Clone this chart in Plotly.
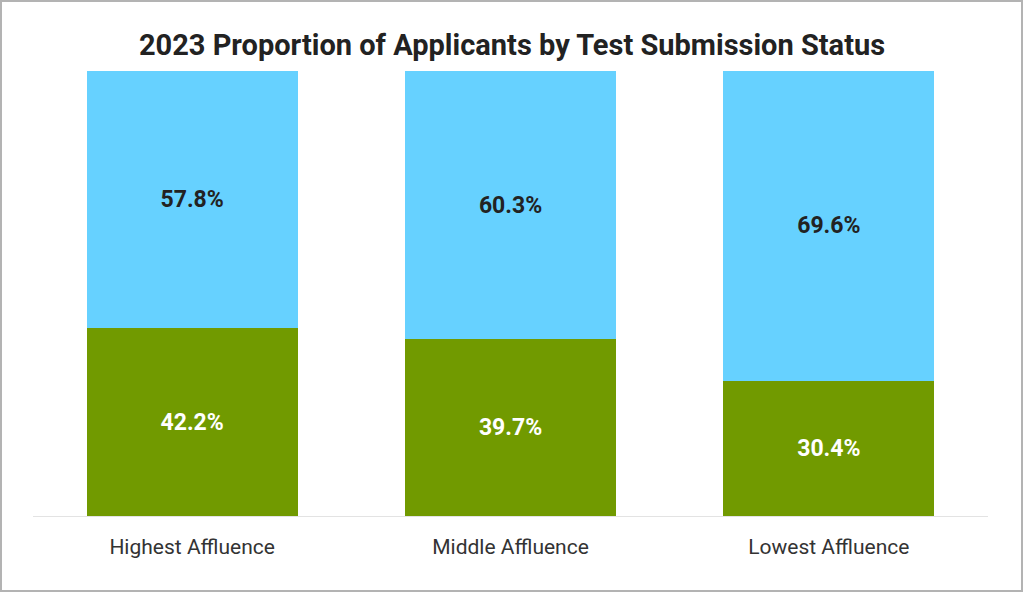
import plotly.graph_objects as go

categories = ["Highest Affluence", "Middle Affluence", "Lowest Affluence"]
green_values = [42.2, 39.7, 30.4]
blue_values = [57.8, 60.3, 69.6]

W, H = 1024, 593
ml, mr, mt, mb = 33, 36, 71, 77
pw, ph = W - ml - mr, H - mt - mb

fig = go.Figure()
fig.add_trace(go.Bar(
    x=categories, y=green_values, marker=dict(color="#719A00", line=dict(width=0)),
    texttemplate="%{y:.1f}%", textposition="inside", insidetextanchor="middle",
    textfont=dict(family="Roboto", size=23, color="#ffffff", weight="bold"),
    hoverinfo="skip", showlegend=False,
))
fig.add_trace(go.Bar(
    x=categories, y=blue_values, marker=dict(color="#66D1FF", line=dict(width=0)),
    texttemplate="%{y:.1f}%", textposition="inside", insidetextanchor="middle",
    textfont=dict(family="Roboto", size=23, color="#222222", weight="bold"),
    hoverinfo="skip", showlegend=False,
))

fig.update_layout(
    width=W, height=H, barmode="stack", bargap=0.337,
    margin=dict(l=ml, r=mr, t=mt, b=mb),
    paper_bgcolor="white", plot_bgcolor="white",
    title=dict(text="<b>2023 Proportion of Applicants by Test Submission Status</b>",
               x=0.5, xanchor="center", y=1 - 45 / H, yanchor="middle",
               font=dict(family="Roboto", size=29, color="#222222")),
    uniformtext=dict(mode="show", minsize=10),
)
fig.update_xaxes(showgrid=False, showline=True, linecolor="#e3e3e3", linewidth=1,
                 ticks="", ticklabelstandoff=12,
                 tickfont=dict(family="Roboto", size=21, color="#333333"))
fig.update_yaxes(range=[0, 100], visible=False, showgrid=False)

fig.add_shape(type="rect", xref="paper", yref="paper",
              x0=(1 - ml) / pw, x1=(W - 2 - ml) / pw,
              y0=-(mb - 2) / ph, y1=1 + (mt - 1) / ph,
              line=dict(color="#b3b3b3", width=2), fillcolor="rgba(0,0,0,0)", layer="above")

fig.write_html("out.html", config={"displayModeBar": False},
               post_script="document.body.style.margin='0';document.body.style.overflow='hidden';")
